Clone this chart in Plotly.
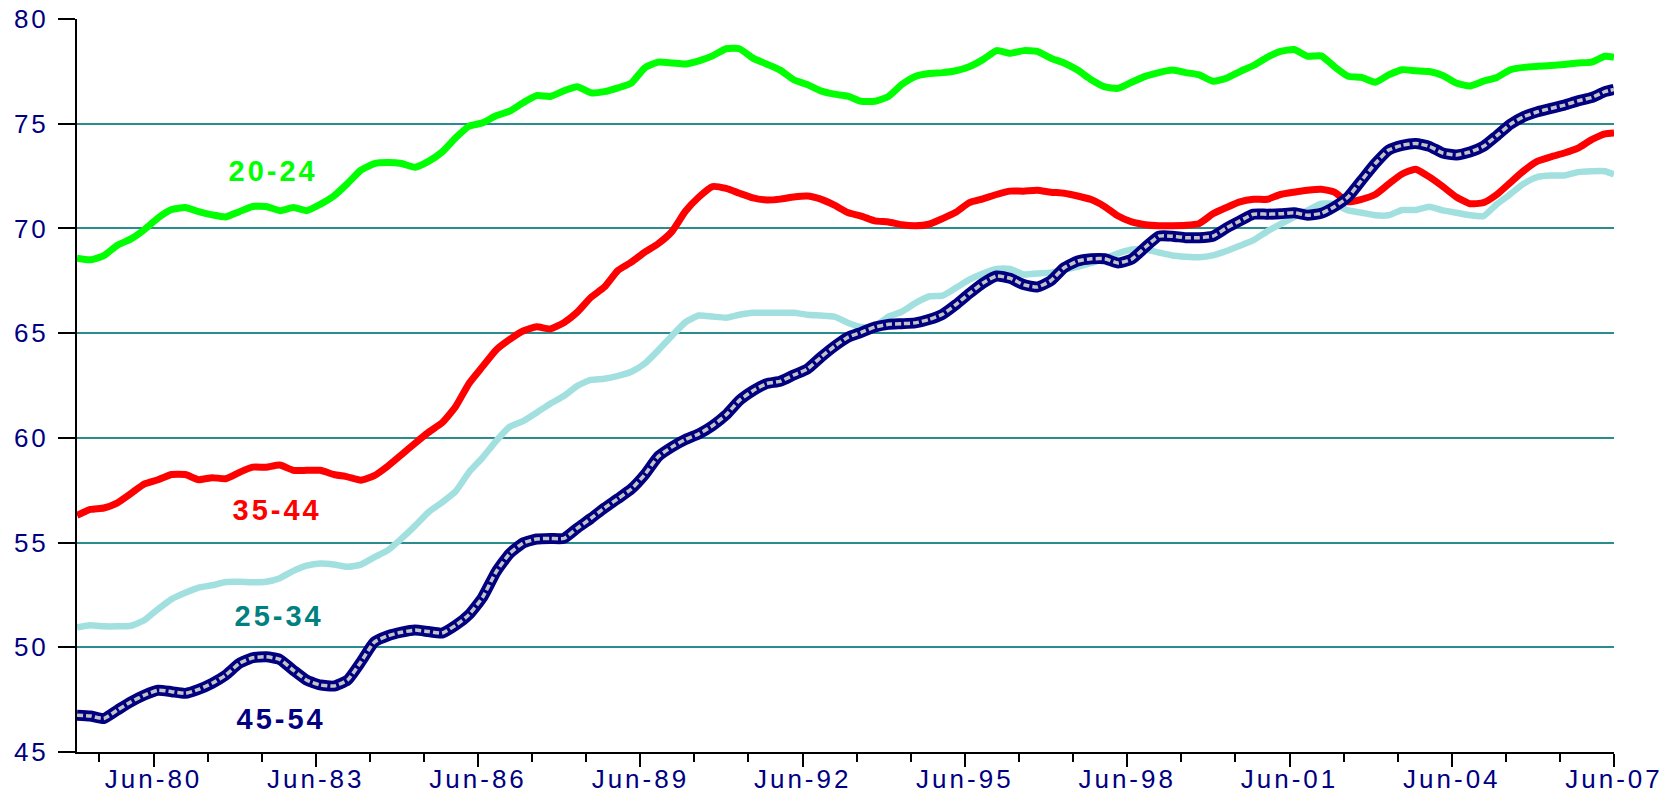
import pandas as pd
import plotly.graph_objects as go

# Quarterly observations, Jan-1979 .. Apr-2007, plus Jun-2007
dates = list(pd.date_range("1979-01-01", "2007-04-01", freq="3MS")) + [pd.Timestamp("2007-06-01")]

age_20_24 = [
    68.58, 68.5, 68.7, 69.2, 69.5, 69.95, 70.5, 70.9, 71.0, 70.8, 70.65, 70.55,
    70.8, 71.05, 71.05, 70.85, 71.0, 70.85, 71.15, 71.55, 72.14, 72.78, 73.1, 73.15,
    73.1, 72.92, 73.2, 73.65, 74.33, 74.88, 75.04, 75.38, 75.6, 76.0, 76.34, 76.3,
    76.57, 76.76, 76.48, 76.53, 76.71, 76.94, 77.67, 77.94, 77.9, 77.85, 78.0, 78.24,
    78.58, 78.58, 78.13, 77.85, 77.56, 77.1, 76.87, 76.57, 76.41, 76.32, 76.07, 76.07,
    76.3, 76.87, 77.26, 77.4, 77.44, 77.53, 77.72, 78.06, 78.49, 78.36, 78.49, 78.45,
    78.13, 77.9, 77.56, 77.1, 76.76, 76.69, 76.98, 77.26, 77.44, 77.56, 77.44, 77.33,
    77.03, 77.17, 77.49, 77.78, 78.17, 78.45, 78.54, 78.22, 78.24, 77.72, 77.27, 77.21,
    76.98, 77.33, 77.58, 77.53, 77.49, 77.3, 76.94, 76.8, 77.03, 77.21, 77.58, 77.69,
    77.74, 77.78, 77.83, 77.9, 77.94, 78.22, 78.17,
]

age_35_44 = [
    56.3, 56.58, 56.65, 56.9, 57.35, 57.8, 58.0, 58.25, 58.25, 58.0, 58.1, 58.05,
    58.35, 58.6, 58.6, 58.7, 58.45, 58.45, 58.45, 58.25, 58.14, 57.98, 58.2, 58.66,
    59.2, 59.74, 60.26, 60.72, 61.5, 62.6, 63.4, 64.2, 64.7, 65.1, 65.3, 65.2,
    65.5, 66.0, 66.7, 67.2, 68.0, 68.39, 68.87, 69.28, 69.86, 70.82, 71.5, 72.0,
    71.91, 71.68, 71.46, 71.36, 71.4, 71.5, 71.55, 71.4, 71.11, 70.76, 70.59, 70.36,
    70.31, 70.18, 70.13, 70.2, 70.47, 70.77, 71.23, 71.41, 71.62, 71.78, 71.78, 71.82,
    71.73, 71.68, 71.55, 71.38, 71.04, 70.59, 70.31, 70.18, 70.13, 70.13, 70.15, 70.24,
    70.7, 71.0, 71.27, 71.39, 71.39, 71.62, 71.73, 71.82, 71.87, 71.73, 71.27, 71.39,
    71.62, 72.12, 72.6, 72.83, 72.46, 72.0, 71.5, 71.18, 71.23, 71.62, 72.19, 72.76,
    73.21, 73.42, 73.6, 73.83, 74.24, 74.52, 74.56,
]

age_25_34 = [
    50.95, 51.05, 51.0, 51.0, 51.03, 51.3, 51.82, 52.3, 52.6, 52.85, 52.96, 53.12,
    53.13, 53.11, 53.13, 53.3, 53.65, 53.9, 54.0, 53.95, 53.84, 53.95, 54.3, 54.64,
    55.2, 55.8, 56.45, 56.92, 57.45, 58.36, 59.05, 59.85, 60.53, 60.8, 61.2, 61.63,
    62.0, 62.48, 62.77, 62.82, 62.96, 63.16, 63.55, 64.19, 64.88, 65.52, 65.84, 65.79,
    65.74, 65.88, 65.97, 65.97, 65.97, 65.97, 65.88, 65.84, 65.79, 65.5, 65.29, 65.33,
    65.79, 66.02, 66.43, 66.75, 66.79, 67.16, 67.55, 67.85, 68.07, 68.07, 67.8, 67.85,
    67.89, 68.03, 68.17, 68.35, 68.58, 68.81, 68.99, 68.99, 68.85, 68.71, 68.65, 68.62,
    68.71, 68.92, 69.17, 69.44, 69.86, 70.2, 70.54, 70.86, 71.18, 71.16, 70.86, 70.75,
    70.63, 70.63, 70.88, 70.88, 71.04, 70.86, 70.75, 70.63, 70.59, 71.16, 71.64, 72.14,
    72.46, 72.53, 72.53, 72.69, 72.73, 72.73, 72.57,
]

age_45_54 = [
    46.76, 46.72, 46.6, 47.0, 47.4, 47.72, 47.95, 47.88, 47.8, 47.99, 48.28, 48.67,
    49.23, 49.5, 49.55, 49.42, 48.9, 48.43, 48.2, 48.15, 48.43, 49.3, 50.25, 50.55,
    50.72, 50.82, 50.75, 50.68, 51.05, 51.56, 52.38, 53.6, 54.48, 54.98, 55.17, 55.2,
    55.2, 55.69, 56.15, 56.65, 57.1, 57.56, 58.25, 59.12, 59.57, 59.92, 60.19, 60.58,
    61.1, 61.79, 62.25, 62.59, 62.7, 63.0, 63.28, 63.85, 64.37, 64.8, 65.04, 65.29,
    65.42, 65.45, 65.49, 65.65, 65.9, 66.36, 66.89, 67.39, 67.73, 67.62, 67.32, 67.2,
    67.5, 68.12, 68.44, 68.55, 68.55, 68.35, 68.53, 69.1, 69.63, 69.63, 69.56, 69.56,
    69.63, 70.02, 70.36, 70.68, 70.68, 70.7, 70.75, 70.63, 70.72, 71.04, 71.5, 72.3,
    73.1, 73.74, 73.97, 74.06, 73.92, 73.6, 73.51, 73.65, 73.92, 74.43, 74.97, 75.34,
    75.57, 75.73, 75.89, 76.09, 76.25, 76.53, 76.64,
]

label_text = ["20-24", "35-44", "25-34", "45-54"]
label_x = ["1982-08-19", "1982-09-15", "1982-09-27", "1982-10-12"]
label_y = [72.74, 56.55, 51.49, 46.57]
label_color = ["#00FF00", "#FF0000", "#008080", "#000080"]

FONT = "Liberation Sans, Arial, sans-serif"
NAVY = "#000080"

fig = go.Figure()
fig.add_trace(go.Scatter(x=dates, y=age_25_34, mode="lines", name="25-34",
                         line=dict(color="#A2E0E0", width=6.5, shape="spline", smoothing=0.5)))
fig.add_trace(go.Scatter(x=dates, y=age_35_44, mode="lines", name="35-44",
                         line=dict(color="#FF0000", width=7, shape="spline", smoothing=0.5)))
fig.add_trace(go.Scatter(x=dates, y=age_20_24, mode="lines", name="20-24",
                         line=dict(color="#00FF00", width=7, shape="spline", smoothing=0.5)))
fig.add_trace(go.Scatter(x=dates, y=age_45_54, mode="lines", name="45-54",
                         line=dict(color=NAVY, width=11, shape="spline", smoothing=0.5)))
fig.add_trace(go.Scatter(x=dates, y=age_45_54, mode="lines", name="45-54 inner",
                         line=dict(color="#C4C4C4", width=3.5, dash="6px,3px",
                                   shape="spline", smoothing=0.5)))

for t, x, y, c in zip(label_text, label_x, label_y, label_color):
    fig.add_annotation(x=x, y=y, text=t, showarrow=False, xanchor="center", yanchor="middle",
                       font=dict(family=FONT, size=29, color=c, weight="bold"))

fig.update_layout(
    width=1672, height=796,
    margin=dict(l=77, r=58, t=19, b=44, pad=0),
    paper_bgcolor="white", plot_bgcolor="white",
    showlegend=False,
    xaxis=dict(
        type="date", automargin=False,
        range=["1979-01-01", "2007-06-01"],
        tick0="1980-06-01", dtick="M36", tickformat="%b-%y",
        ticks="outside", ticklen=13, tickwidth=2, tickcolor="black",
        showline=True, linecolor="black", linewidth=2,
        showgrid=False, zeroline=False,
        tickfont=dict(family=FONT, size=26, color=NAVY),
        ticklabelstandoff=-10,
        minor=dict(dtick="M12", tick0="1979-06-01", ticks="outside", ticklen=8,
                   tickwidth=2, tickcolor="black", showgrid=False),
    ),
    yaxis=dict(
        automargin=False,
        range=[45, 80], dtick=5, tick0=45,
        ticks="outside", ticklen=17, tickwidth=2, tickcolor="black",
        showline=True, linecolor="black", linewidth=2,
        showgrid=True, gridcolor="#2A8C8C", gridwidth=1.5, zeroline=False,
        tickfont=dict(family=FONT, size=26, color=NAVY),
        ticklabelstandoff=4,
    ),
)

page_js = (
    "document.body.style.margin='0';"
    "document.body.style.overflow='hidden';"
    "document.querySelectorAll('.xtick text, .ytick text').forEach(function(e){e.style.letterSpacing='3px';});"
    "document.querySelectorAll('.annotation-text').forEach(function(e){e.style.letterSpacing='3px';});"
)

fig.write_html("out.html", post_script=page_js, config={"displayModeBar": False})
